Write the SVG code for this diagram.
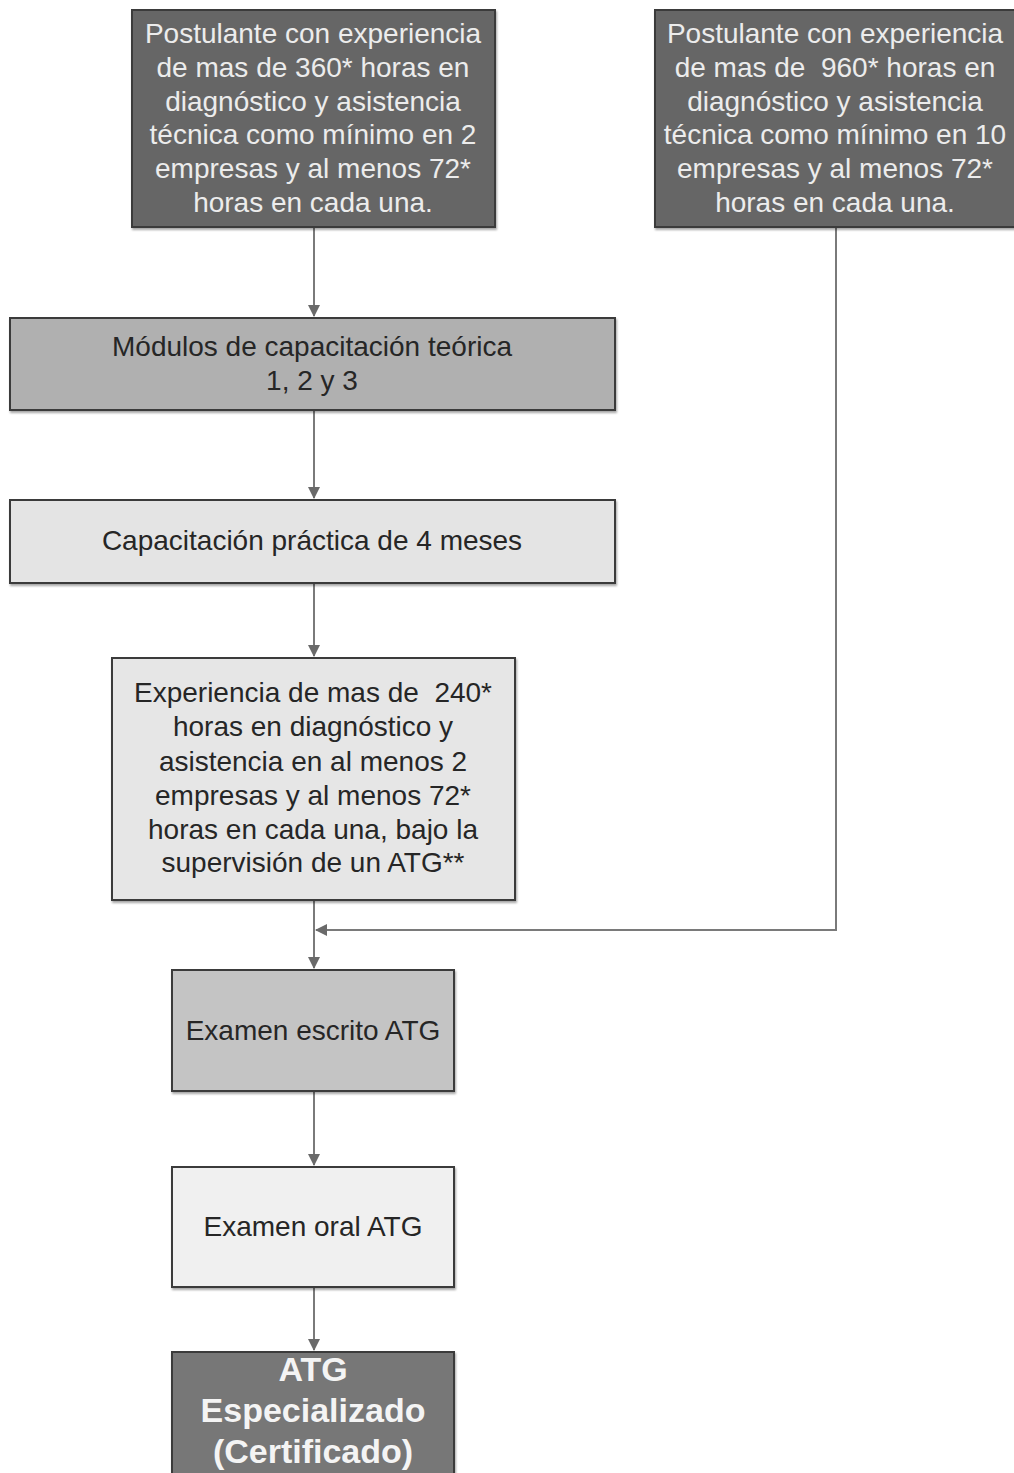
<svg xmlns="http://www.w3.org/2000/svg" width="1014" height="1473" viewBox="0 0 1014 1473">
<style>
.box{stroke:#3a3a3a;stroke-width:2}
.t{font-family:"Liberation Sans",Arial,sans-serif;font-size:28px;text-anchor:middle}
.lt{fill:#ececec}
.dk{fill:#262626}
.b{font-weight:bold;font-size:34px;fill:#f4f4f4}
.c{fill:none;stroke:#7a7a7a;stroke-width:2}
</style>
<defs>
<marker id="ah" markerWidth="12" markerHeight="12" refX="11" refY="6" orient="auto" markerUnits="userSpaceOnUse">
<path d="M0,0 L12,6 L0,12 Z" fill="#6a6a6a"/>
</marker>
<filter id="sh" x="-5%" y="-5%" width="110%" height="110%"><feDropShadow dx="1" dy="2" stdDeviation="1" flood-color="#000" flood-opacity="0.35"/></filter>
</defs>
<rect width="1014" height="1473" fill="#fff"/>
<g id="connectors">
<path class="c" d="M314,227 V316" marker-end="url(#ah)"/>
<path class="c" d="M314,410 V498" marker-end="url(#ah)"/>
<path class="c" d="M314,583 V656" marker-end="url(#ah)"/>
<path class="c" d="M314,900 V968" marker-end="url(#ah)"/>
<path class="c" d="M836,227 V930 H316" marker-end="url(#ah)"/>
<path class="c" d="M314,1091 V1165" marker-end="url(#ah)"/>
<path class="c" d="M314,1287 V1350" marker-end="url(#ah)"/>
</g>
<g id="n1">
<rect class="box" x="132" y="10" width="363" height="217" fill="#666" filter="url(#sh)"/>
<text class="t lt"><tspan x="313" y="43">Postulante con experiencia</tspan><tspan x="313" y="77">de mas de 360* horas en</tspan><tspan x="313" y="111">diagnóstico y asistencia</tspan><tspan x="313" y="144">técnica como mínimo en 2</tspan><tspan x="313" y="178">empresas y al menos 72*</tspan><tspan x="313" y="212">horas en cada una.</tspan></text>
</g>
<g id="n2">
<rect class="box" x="655" y="10" width="360" height="217" fill="#666" filter="url(#sh)"/>
<text class="t lt"><tspan x="835" y="43">Postulante con experiencia</tspan><tspan x="835" y="77">de mas de &#160;960* horas en</tspan><tspan x="835" y="111">diagnóstico y asistencia</tspan><tspan x="835" y="144">técnica como mínimo en 10</tspan><tspan x="835" y="178">empresas y al menos 72*</tspan><tspan x="835" y="212">horas en cada una.</tspan></text>
</g>
<g id="n3">
<rect class="box" x="10" y="318" width="605" height="92" fill="#b0b0b0" filter="url(#sh)"/>
<text class="t dk"><tspan x="312" y="356">Módulos de capacitación teórica</tspan><tspan x="312" y="390">1, 2 y 3</tspan></text>
</g>
<g id="n4">
<rect class="box" x="10" y="500" width="605" height="83" fill="#e4e4e4" filter="url(#sh)"/>
<text class="t dk" x="312" y="550">Capacitación práctica de 4 meses</text>
</g>
<g id="n5">
<rect class="box" x="112" y="658" width="403" height="242" fill="#e6e6e6" filter="url(#sh)"/>
<text class="t dk"><tspan x="313" y="702">Experiencia de mas de &#160;240*</tspan><tspan x="313" y="736">horas en diagnóstico y</tspan><tspan x="313" y="771">asistencia en al menos 2</tspan><tspan x="313" y="805">empresas y al menos 72*</tspan><tspan x="313" y="839">horas en cada una, bajo la</tspan><tspan x="313" y="872">supervisión de un ATG**</tspan></text>
</g>
<g id="n6">
<rect class="box" x="172" y="970" width="282" height="121" fill="#c4c4c4" filter="url(#sh)"/>
<text class="t dk" x="313" y="1040">Examen escrito ATG</text>
</g>
<g id="n7">
<rect class="box" x="172" y="1167" width="282" height="120" fill="#f0f0f0" filter="url(#sh)"/>
<text class="t dk" x="313" y="1236">Examen oral ATG</text>
</g>
<g id="n8">
<rect class="box" x="172" y="1352" width="282" height="125" fill="#777" filter="url(#sh)"/>
<text class="t b"><tspan x="313" y="1381">ATG</tspan><tspan x="313" y="1422">Especializado</tspan><tspan x="313" y="1463">(Certificado)</tspan></text>
</g>
</svg>
